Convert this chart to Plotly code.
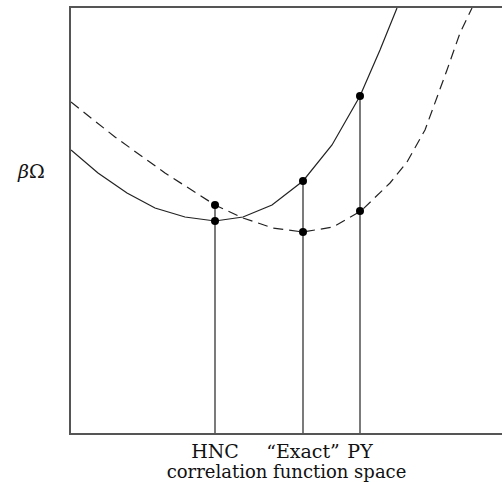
import plotly.graph_objects as go

# Solid curve (schematic grand potential, curve 1)
solid_x = [0, 27, 56, 84, 114, 144, 172, 201, 232, 261, 289, 309, 326]
solid_y = [283, 260, 240, 225, 216, 212, 216, 228, 252, 288, 337, 383, 425]

# Dashed curve (curve 2)
dashed_x = [0, 44, 94, 144, 172, 202, 232, 262, 290, 319, 336, 354, 376, 389, 401]
dashed_y = [331, 296, 260, 228, 215, 205, 201, 206, 222, 250, 271, 303, 363, 400, 425]

# Closures marked on the correlation-function axis
closure_labels = ["HNC", "\u201cExact\u201d", "PY"]
closure_x = [144, 232, 289]
solid_at_closure = [212, 252, 337]
dashed_at_closure = [228, 201, 222]

fig = go.Figure()

# vertical drop lines
vx, vy = [], []
for x, a, b in zip(closure_x, solid_at_closure, dashed_at_closure):
    vx += [x, x, None]
    vy += [0, max(a, b), None]
fig.add_trace(go.Scatter(x=vx, y=vy, mode="lines",
                         line=dict(color="#222", width=1.2), hoverinfo="skip"))

fig.add_trace(go.Scatter(x=solid_x, y=solid_y, mode="lines",
                         line=dict(color="#222", width=1.2)))
fig.add_trace(go.Scatter(x=dashed_x, y=dashed_y, mode="lines",
                         line=dict(color="#222", width=1.2, dash="10px,6px")))

fig.add_trace(go.Scatter(x=closure_x + closure_x,
                         y=solid_at_closure + dashed_at_closure,
                         mode="markers",
                         marker=dict(color="black", size=8)))

fig.update_layout(
    width=502, height=482,
    margin=dict(l=71, r=0, t=8, b=49),
    paper_bgcolor="white", plot_bgcolor="white",
    showlegend=False,
    font=dict(family="DejaVu Serif", size=15, color="#111"),
    xaxis=dict(range=[0, 431], showgrid=False, zeroline=False,
               showline=True, mirror=True, linecolor="#555", linewidth=1.5,
               tickvals=closure_x, ticktext=closure_labels, ticks="",
               tickfont=dict(family="DejaVu Serif", size=19, color="#111"),
               title=dict(text="correlation function space", standoff=2,
                          font=dict(family="DejaVu Serif", size=18, color="#111"))),
    yaxis=dict(range=[0, 425], showgrid=False, zeroline=False,
               showline=True, linecolor="#555", linewidth=1.5,
               showticklabels=False, ticks=""),
    annotations=[dict(text="<i>\u03b2</i>\u03a9",
                      x=(31 - 71) / 431, xref="paper",
                      y=(433 - 171) / 425, yref="paper",
                      showarrow=False, xanchor="center", yanchor="middle",
                      font=dict(family="DejaVu Serif", size=19, color="#111"))],
)

fig.write_html("out.html")
